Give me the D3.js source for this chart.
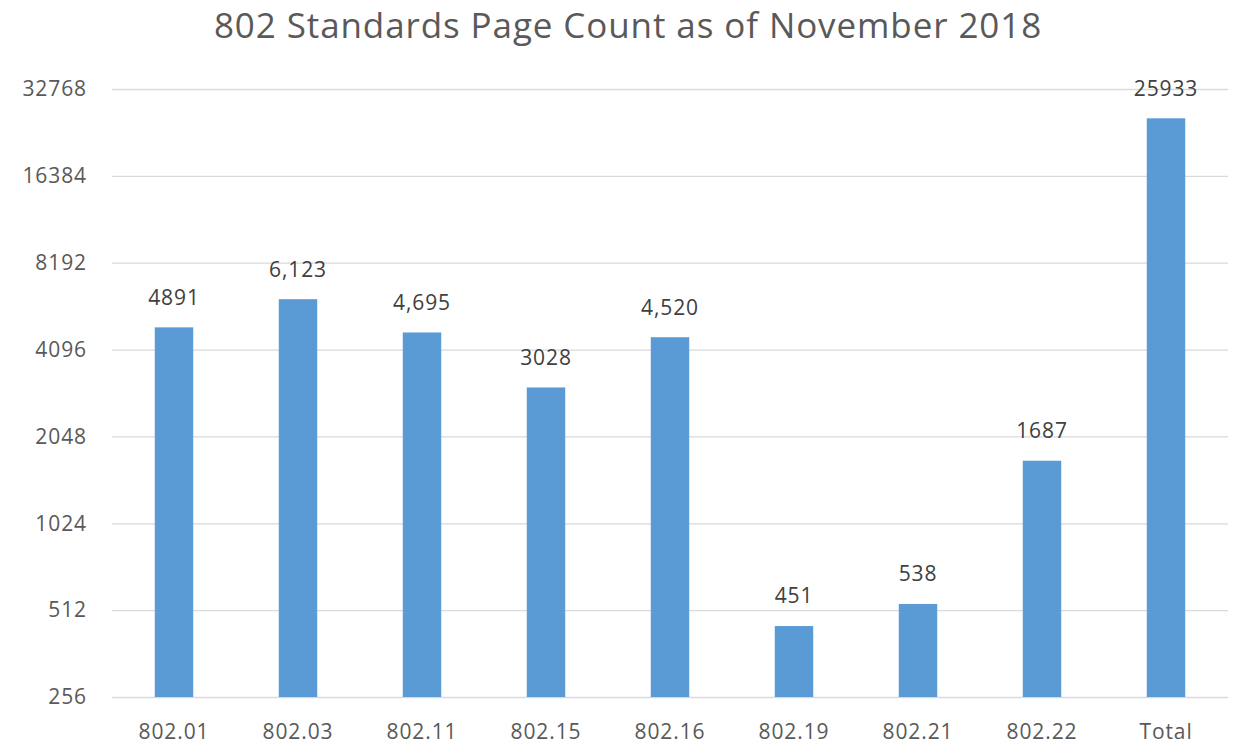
<!DOCTYPE html>
<html>
<head>
<meta charset="utf-8">
<script src="https://cdn.jsdelivr.net/npm/d3@7"></script>
<style>
  body { margin: 0; background: #fff; }
  svg text { font-family: "Open Sans", "Liberation Sans", sans-serif; }
</style>
</head>
<body>
<div id="chart"></div>
<script>
// chart data
const categories = ["802.01", "802.03", "802.11", "802.15", "802.16", "802.19", "802.21", "802.22", "Total"];
const pages = [4891, 6123, 4695, 3028, 4520, 451, 538, 1687, 25933];
const labels = ["4891", "6,123", "4,695", "3028", "4,520", "451", "538", "1687", "25933"];
const yTicks = [256, 512, 1024, 2048, 4096, 8192, 16384, 32768];

const width = 1236, height = 744;
const margin = { top: 89, right: 8, bottom: 47, left: 112 };

const svg = d3.select("#chart").append("svg")
  .attr("width", width)
  .attr("height", height);

const x = d3.scaleBand()
  .domain(categories)
  .range([margin.left, width - margin.right])
  .paddingInner(0.69)
  .paddingOuter(0.345);

const y = d3.scaleLog()
  .base(2)
  .domain([256, 32768])
  .range([height - margin.bottom, margin.top]);

// gridlines
svg.append("g")
  .attr("transform", `translate(${margin.left},0)`)
  .call(d3.axisLeft(y).tickValues(yTicks).tickSize(-(width - margin.left - margin.right)).tickFormat(""))
  .call(g => g.select(".domain").remove())
  .call(g => g.selectAll("line").attr("stroke", "#d9d9d9").attr("stroke-width", 1.3));

// y tick labels
svg.append("g")
  .selectAll("text")
  .data(yTicks)
  .join("text")
  .attr("x", 87)
  .attr("y", d => y(d))
  .attr("dy", "0.35em")
  .attr("text-anchor", "end")
  .attr("fill", "#595959")
  .style("font-size", "21px")
  .style("letter-spacing", "0.9px")
  .text(d => d);

// bars
svg.append("g")
  .selectAll("rect")
  .data(pages)
  .join("rect")
  .attr("x", (d, i) => x(categories[i]))
  .attr("y", d => y(d))
  .attr("width", x.bandwidth())
  .attr("height", d => y(256) - y(d))
  .attr("fill", "#5b9bd5");

// value labels
svg.append("g")
  .selectAll("text")
  .data(pages)
  .join("text")
  .attr("x", (d, i) => x(categories[i]) + x.bandwidth() / 2)
  .attr("y", d => y(d) - 30)
  .attr("dy", "0.35em")
  .attr("text-anchor", "middle")
  .attr("fill", "#404040")
  .style("font-size", "21px")
  .style("letter-spacing", "0.9px")
  .text((d, i) => labels[i]);

// x labels
svg.append("g")
  .selectAll("text")
  .data(categories)
  .join("text")
  .attr("x", d => x(d) + x.bandwidth() / 2)
  .attr("y", 732)
  .attr("dy", "0.35em")
  .attr("text-anchor", "middle")
  .attr("fill", "#595959")
  .style("font-size", "21px")
  .style("letter-spacing", "0.9px")
  .text(d => d);

// title
svg.append("text")
  .attr("x", 628)
  .attr("y", 26)
  .attr("dy", "0.35em")
  .attr("text-anchor", "middle")
  .attr("fill", "#595959")
  .style("font-size", "35px")
  .style("letter-spacing", "0.9px")
  .text("802 Standards Page Count as of November 2018");
</script>
</body>
</html>
